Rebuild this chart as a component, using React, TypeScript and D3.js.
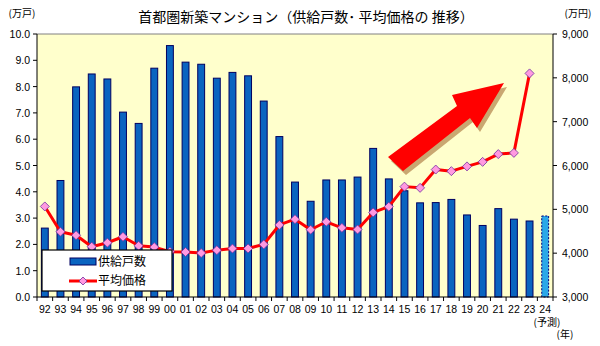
import React from "react";
import * as d3 from "d3";

const years = ["92","93","94","95","96","97","98","99","00","01","02","03","04","05","06","07","08","09","10","11","12","13","14","15","16","17","18","19","20","21","22","23","24"];
const supply = [2.62,4.43,7.99,8.48,8.29,7.03,6.60,8.70,9.56,8.93,8.85,8.32,8.54,8.41,7.45,6.10,4.37,3.64,4.45,4.45,4.56,5.65,4.49,4.04,3.58,3.59,3.71,3.12,2.72,3.36,2.96,2.89,3.08];
const price = [5066,4488,4409,4148,4238,4374,4168,4138,4034,4026,4003,4069,4104,4108,4200,4644,4775,4535,4716,4578,4540,4929,5060,5518,5490,5908,5871,5980,6083,6260,6288,8101];
const leftTicks = [0,1,2,3,4,5,6,7,8,9,10];
const rightTicks = [3000,4000,5000,6000,7000,8000,9000];
const forecastIndex = 32;

const W = 600, H = 346;
const L = 37, R = 553, T = 34, B = 297;
const FONT = "'Liberation Sans', 'Noto Sans CJK JP', sans-serif";
const JFONT = "'Noto Sans CJK JP', sans-serif";

export default function App() {
  const x = d3.scaleBand<string>().domain(years).range([L, R]).paddingInner(0.56).paddingOuter(0.28);
  const yL = d3.scaleLinear().domain([0, 10]).range([B, T]);
  const yR = d3.scaleLinear().domain([3000, 9000]).range([B, T]);
  const cx = (i: number) => (x(years[i]) as number) + x.bandwidth() / 2;
  const line = d3.line<number>().x((_, i) => cx(i)).y(d => yR(d));
  const diamond = (px: number, py: number, r = 4.5) =>
    `M${px},${py - r}L${px + r},${py}L${px},${py + r}L${px - r},${py}Z`;

  // decorative arrow (annotation)
  const arrow = "M388,157 L457,106 L452,95 L504,83 L477,128 L470,118 L403,171 Z";

  const catEdges = d3.range(years.length + 1).map(i => L + (R - L) * i / years.length);

  return (
    <svg width={W} height={H} style={{ position: "absolute", left: 0, top: 0 }} fontFamily={FONT}>
      <rect x={0} y={0} width={W} height={H} fill="#fff" />
      <rect x={L} y={T} width={R - L} height={B - T} fill="#FFFFCC" />
      <line x1={L} x2={R} y1={T} y2={T} stroke="#808080" strokeWidth={1} />

      {supply.map((v, i) => {
        const f = i === forecastIndex;
        return (
          <rect key={i} x={x(years[i])} y={yL(v)} width={x.bandwidth()} height={B - yL(v)}
            fill={f ? "#2AA8E8" : "#0A64C0"} stroke={f ? "#000080" : "#000060"}
            strokeWidth={1} strokeDasharray={f ? "2,1.5" : undefined} />
        );
      })}

      <path d={line(price) || ""} fill="none" stroke="#FF0000" strokeWidth={3} strokeLinejoin="round" />
      {price.map((v, i) => (
        <path key={i} d={diamond(cx(i), yR(v))} fill="#FF99E0" stroke="#7030A0" strokeWidth={0.8} />
      ))}

      <path d={arrow} fill="#C09860" transform="translate(3,4)" opacity={0.85} />
      <path d={arrow} fill="#FF0000" />

      {/* axes */}
      <line x1={L} x2={L} y1={T} y2={B} stroke="#000" />
      <line x1={R} x2={R} y1={T} y2={B} stroke="#000" />
      <line x1={L} x2={R} y1={B} y2={B} stroke="#000" />
      {leftTicks.map(t => (
        <g key={t}>
          <line x1={L - 4} x2={L} y1={yL(t)} y2={yL(t)} stroke="#000" />
          <text x={30} y={yL(t) + 4} textAnchor="end" fontSize={10.5}>{t.toFixed(1)}</text>
        </g>
      ))}
      {rightTicks.map(t => (
        <g key={t}>
          <line x1={R} x2={R + 4} y1={yR(t)} y2={yR(t)} stroke="#000" />
          <text x={562} y={yR(t) + 4} textAnchor="start" fontSize={10.5}>{d3.format(",")(t)}</text>
        </g>
      ))}
      {catEdges.map((e, i) => (
        <line key={i} x1={e} x2={e} y1={B} y2={B + 4} stroke="#000" />
      ))}
      {years.map((yv, i) => (
        <text key={yv} x={cx(i)} y={B + 16} textAnchor="middle" fontSize={10.5}>{yv}</text>
      ))}
      <text x={547} y={B + 29} textAnchor="middle" fontSize={10} fontFamily={JFONT}>(予測)</text>
      <text x={565} y={B + 41} textAnchor="middle" fontSize={10} fontFamily={JFONT}>(年)</text>

      <text x={22} y={17} textAnchor="middle" fontSize={10} fontFamily={JFONT}>(万戸)</text>
      <text x={578} y={17} textAnchor="middle" fontSize={10} fontFamily={JFONT}>(万円)</text>
      <text x={306} y={22} textAnchor="middle" fontSize={14} fontFamily={JFONT}>首都圏新築マンション（供給戸数･ 平均価格の 推移）</text>

      {/* legend */}
      <rect x={42} y={250} width={130} height={41} fill="#fff" stroke="#000" strokeWidth={1.2} />
      <rect x={70} y={258} width={26} height={7} fill="#0A64C0" stroke="#000060" />
      <text x={98} y={266} fontSize={12} fontFamily={JFONT}>供給戸数</text>
      <line x1={69} x2={97} y1={281} y2={281} stroke="#FF0000" strokeWidth={3} />
      <path d={diamond(83, 281, 4)} fill="#FF99E0" stroke="#7030A0" strokeWidth={0.8} />
      <text x={98} y={285} fontSize={12} fontFamily={JFONT}>平均価格</text>
    </svg>
  );
}
